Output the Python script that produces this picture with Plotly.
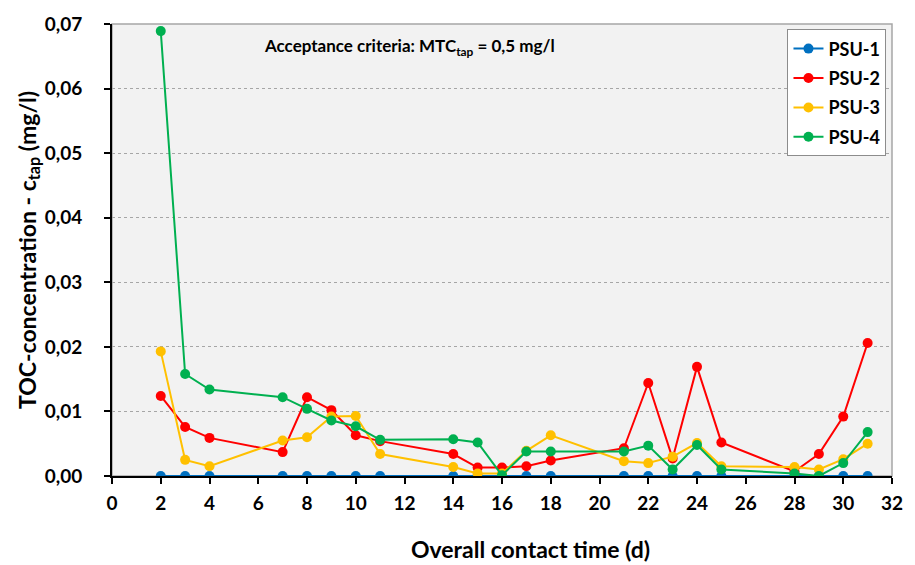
import plotly.graph_objects as go

days = [2, 3, 4, 7, 8, 9, 10, 11, 14, 15, 16, 17, 18, 21, 22, 23, 24, 25, 28, 29, 30, 31]
psu1 = [0.0] * 22
psu2 = [0.0124, 0.0076, 0.0059, 0.0037, 0.0122, 0.0102, 0.0063, 0.0054, 0.0034, 0.0013, 0.0013,
        0.0015, 0.0024, 0.0043, 0.0144, 0.0027, 0.0169, 0.0052, 0.0007, 0.0034, 0.0092, 0.0206]
psu3 = [0.0193, 0.0025, 0.0015, 0.0055, 0.0060, 0.0092, 0.0093, 0.0034, 0.0014, 0.0004, 0.0004,
        0.0039, 0.0063, 0.0023, 0.0020, 0.0030, 0.0051, 0.0015, 0.0014, 0.0010, 0.0026, 0.0050]
psu4 = [0.0689, 0.0158, 0.0134, 0.0122, 0.0104, 0.0086, 0.0077, 0.0056, 0.0057, 0.0052, 0.0001,
        0.0038, 0.0038, 0.0038, 0.0047, 0.0010, 0.0048, 0.0010, 0.0004, 0.0000, 0.0020, 0.0068]

names = ["PSU-1", "PSU-2", "PSU-3", "PSU-4"]
series = [psu1, psu2, psu3, psu4]
colors = ["#0070C0", "#FF0000", "#FFC000", "#00B050"]

font = "Lato"

fig = go.Figure()
for n, s, c in zip(names, series, colors):
    fig.add_trace(go.Scatter(x=days, y=s, name=n, mode="lines+markers", legendgroup=n,
                             line=dict(color=c, width=2),
                             marker=dict(color=c, size=10)))

fig.update_layout(
    width=915, height=565,
    margin=dict(l=112, r=15, t=19, b=89),
    paper_bgcolor="white",
    plot_bgcolor="#f2f2f2",
    separators=",.",
    showlegend=True,
    legend=dict(x=0.866, y=0.988, xanchor="left", yanchor="top",
                bgcolor="white", bordercolor="#8c8c8c", borderwidth=1,
                font=dict(family=font, size=18, color="black", weight="bold"),
                tracegroupgap=3, itemwidth=30),
    xaxis=dict(range=[0, 32], dtick=2, tick0=0, showgrid=False, zeroline=False,
               showline=True, linecolor="black", linewidth=2,
               ticks="outside", ticklen=6, tickcolor="black", tickwidth=2,
               ticklabelstandoff=3,
               tickfont=dict(family=font, size=19, color="black", weight="bold")),
    yaxis=dict(range=[0, 0.07], dtick=0.01, tickformat=".2f", zeroline=False,
               showgrid=True, gridcolor="#a6a6a6", griddash="dot", gridwidth=1,
               showline=True, linecolor="black", linewidth=2,
               ticks="outside", ticklen=6, tickcolor="black", tickwidth=2,
               ticklabelstandoff=18,
               tickfont=dict(family=font, size=19, color="black", weight="bold"),
               title=dict(text="TOC-concentration - c<sub>tap</sub> (mg/l)", standoff=2,
                          font=dict(family=font, size=23, color="black", weight="bold"))),
    shapes=[dict(type="rect", xref="paper", yref="paper", x0=0, y0=0, x1=1, y1=1,
                 line=dict(color="#a6a6a6", width=1.5), layer="below")],
    annotations=[
        dict(text="Acceptance criteria: MTC<sub>tap</sub> = 0,5 mg/l",
             xref="paper", yref="paper", x=0.381, y=0.95,
             xanchor="center", yanchor="middle", showarrow=False,
             font=dict(family=font, size=17, color="black", weight="bold")),
        dict(text="Overall contact time (d)",
             xref="paper", yref="paper", x=0.537, y=-0.162,
             xanchor="center", yanchor="middle", showarrow=False,
             font=dict(family=font, size=23, color="black", weight="bold")),
    ],
)

fig.write_html("out.html")
